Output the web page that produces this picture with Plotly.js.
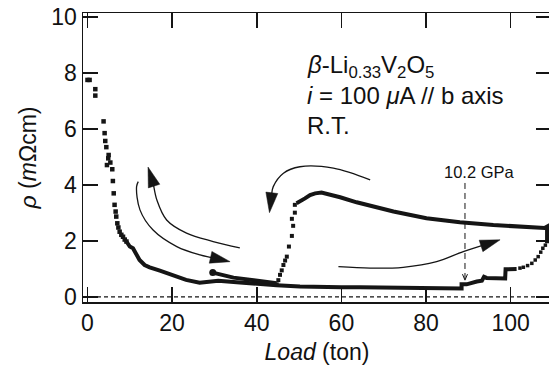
<!DOCTYPE html>
<html><head><meta charset="utf-8">
<script src="https://cdn.plot.ly/plotly-3.0.1.min.js"></script>
<style>html,body{margin:0;padding:0;overflow:hidden;background:#fff}#chart{width:551px;height:373px}</style>
</head><body><div id="chart"></div><script>
// ---- data (Load in ton, resistivity in mOhm cm) ----
const loadDotsX = [0, 0.5, 1.85, 1.85, 3.8, 4.05, 4.2, 4.45, 4.6, 4.9, 5.0, 5.4, 5.86, 6.0, 6.2, 6.4, 6.65, 6.8, 7.05, 7.3, 7.6, 8.0, 8.4, 8.8, 9.2];
const loadDotsY = [7.75, 7.75, 7.42, 7.19, 6.27, 5.85, 5.57, 5.35, 4.71, 4.95, 5.07, 4.8, 4.56, 4.14, 3.7, 3.29, 3.05, 2.87, 2.63, 2.48, 2.33, 2.22, 2.15, 2.05, 1.98];
const loadLineX = [9.2, 10.0, 10.75, 11.5, 12.3, 13.5, 14.7, 17.1, 19.4, 21.8, 23.3, 26.5, 29.7, 30.9, 36.0, 40.0, 44.7, 50.2, 57.3, 60.0, 64.4, 73.8, 79.3, 84.1, 88.4, 88.4, 89.6, 92.0, 93.2, 93.7, 94.3, 98.7, 98.8, 101.4];
const loadLineY = [1.98, 1.80, 1.74, 1.50, 1.32, 1.14, 1.06, 0.94, 0.82, 0.70, 0.61, 0.51, 0.55, 0.58, 0.52, 0.46, 0.42, 0.37, 0.33, 0.35, 0.35, 0.33, 0.29, 0.31, 0.30, 0.45, 0.45, 0.55, 0.58, 0.72, 0.68, 0.66, 0.99, 1.00];
const loadEndDotsX = [102.2, 103.0, 104.0, 105.0, 105.8, 106.5, 107.1, 107.6, 108.2];
const loadEndDotsY = [1.03, 1.06, 1.12, 1.20, 1.32, 1.44, 1.60, 1.74, 1.85];
const unloadLineX = [108.6, 108.6, 108.0, 103.8, 95.9, 88.0, 80.1, 72.3, 66.8, 63.6, 59.7, 56.5, 55.3, 53.8, 52.6, 51.4, 50.2, 49.4];
const unloadLineY = [1.92, 2.51, 2.46, 2.49, 2.57, 2.67, 2.81, 3.05, 3.25, 3.38, 3.56, 3.68, 3.73, 3.70, 3.64, 3.52, 3.44, 3.35];
const unloadDotsX = [49.0, 49.0, 48.3, 48.6, 48.3, 47.6, 47.1, 46.7, 46.3, 45.9, 45.5, 45.1, 44.7];
const unloadDotsY = [3.29, 3.01, 2.79, 2.54, 2.18, 1.80, 1.44, 1.30, 1.14, 0.95, 0.79, 0.60, 0.45];
const unloadEndX = [44.7, 40.0, 34.5, 29.6];
const unloadEndY = [0.49, 0.58, 0.69, 0.87];
const xTicks = [0, 20, 40, 60, 80, 100];
const yTicks = [0, 2, 4, 6, 8, 10];
const gpaLoad = 89.2;        // load marked as 10.2 GPa
const gpaLabel = '10.2 GPa';

// ---- guide arrows (annotation curves, not data) ----
const arrowPaths = [
  {x: [36.0, 29.7, 23.4, 18.7, 16.4, 15.5, 14.3], y: [1.75, 1.98, 2.28, 2.75, 3.46, 4.07, 4.64]},
  {x: [12.0, 11.6, 12.4, 15.5, 21.1, 26.6, 33.7], y: [4.12, 3.94, 3.11, 2.39, 1.80, 1.50, 1.26]},
  {x: [66.8, 58.1, 50.2, 46.3, 43.9, 43.5, 43.0], y: [4.18, 4.60, 4.65, 4.42, 3.94, 3.64, 3.01]},
  {x: [59.3, 66.8, 74.6, 82.5, 88.8, 97.5], y: [1.08, 1.03, 1.06, 1.26, 1.62, 2.04]}
];

// ---- layout geometry ----
const W = 551, H = 373, M = {l: 83, r: 0, t: 13, b: 71};
const xRange = [-1.06, 109.53], yRange = [-0.18, 10.14];
const pw = W - M.l - M.r, ph = H - M.t - M.b;
const kx = pw / (xRange[1] - xRange[0]), ky = ph / (yRange[1] - yRange[0]);
const INK = '#151515';

function head(path, len, half) {
  const n = path.x.length;
  const tx = path.x[n - 1], ty = path.y[n - 1];
  const ux0 = (tx - path.x[n - 2]) * kx, uy0 = (ty - path.y[n - 2]) * ky;
  const d = Math.hypot(ux0, uy0), ux = ux0 / d, uy = uy0 / d;
  const bx = -ux * len, by = -uy * len;
  const tri = {
    x: [tx, tx + (bx - uy * half) / kx, tx + (bx + uy * half) / kx, tx],
    y: [ty, ty + (by + ux * half) / ky, ty + (by - ux * half) / ky, ty]
  };
  const body = {x: path.x.slice(0, n - 1).concat([tx + bx * 0.7 / kx]), y: path.y.slice(0, n - 1).concat([ty + by * 0.7 / ky])};
  return {tri, body};
}

const traces = [
  {x: loadDotsX, y: loadDotsY, mode: 'markers', marker: {symbol: 'square', size: 4.5, color: INK}},
  {x: loadLineX, y: loadLineY, mode: 'lines', line: {color: INK, width: 4}},
  {x: loadEndDotsX, y: loadEndDotsY, mode: 'markers', marker: {symbol: 'square', size: 3.5, color: INK}},
  {x: unloadLineX, y: unloadLineY, mode: 'lines', line: {color: INK, width: 4}},
  {x: unloadDotsX, y: unloadDotsY, mode: 'markers', marker: {symbol: 'square', size: 4, color: INK}},
  {x: unloadEndX, y: unloadEndY, mode: 'lines', line: {color: INK, width: 4}},
  {x: unloadEndX.slice(-1), y: unloadEndY.slice(-1), mode: 'markers', marker: {symbol: 'circle', size: 7, color: INK}}
];
arrowPaths.forEach(p => {
  const h = head(p, 20, 6);
  traces.push({x: h.body.x, y: h.body.y, mode: 'lines', line: {color: INK, width: 1.3, shape: 'spline', smoothing: 1}});
  traces.push({x: h.tri.x, y: h.tri.y, mode: 'lines', fill: 'toself', fillcolor: INK, line: {color: INK, width: 0.5}});
});
// 10.2 GPa marker: dashed drop line with a small head
const gTop = 4.07, gTip = 0.6;
traces.push({x: [gpaLoad, gpaLoad], y: [gTop, gTip], mode: 'lines', line: {color: INK, width: 1, dash: '6px,4px'}});
traces.push({x: [gpaLoad - 2.5 / kx, gpaLoad, gpaLoad + 2.5 / kx], y: [gTip + 6 / ky, gTip, gTip + 6 / ky], mode: 'lines', line: {color: INK, width: 1}});
traces.forEach(t => { t.showlegend = false; t.hoverinfo = 'skip'; t.type = 'scatter'; });

const FONT = 'Liberation Sans, Arial, Helvetica, sans-serif';
const axisCommon = {
  showline: true, linewidth: 1.5, linecolor: INK, mirror: 'ticks',
  ticks: 'inside', ticklen: 15, tickwidth: 1.5, tickcolor: INK,
  showgrid: false, zeroline: false, tickfont: {family: FONT, size: 23, color: '#111'}
};
const layout = {
  width: W, height: H, margin: M, paper_bgcolor: '#fff', plot_bgcolor: '#fff',
  font: {family: FONT, color: '#111'},
  xaxis: Object.assign({}, axisCommon, {range: xRange, tickvals: xTicks, ticktext: xTicks.map(String),
    title: {text: '<i>Load</i> (ton)', font: {family: FONT, size: 23, color: '#111'}, standoff: 9}}),
  yaxis: Object.assign({}, axisCommon, {range: yRange, tickvals: yTicks, ticktext: yTicks.map(String),
    title: {text: '<i>ρ</i> (<i>m</i>Ωcm)', font: {family: FONT, size: 23, color: '#111'}, standoff: 8}}),
  shapes: [{type: 'line', xref: 'paper', x0: 0, x1: 1, yref: 'y', y0: 0, y1: 0, line: {color: INK, width: 1.2, dash: '4px,3px'}}],
  annotations: [
    {x: 51.4, y: 8.23, xanchor: 'left', yanchor: 'middle', showarrow: false, text: '<i>β</i>-Li<sub>0.33</sub>V<sub>2</sub>O<sub>5</sub>', font: {family: FONT, size: 24, color: '#111'}},
    {x: 51.4, y: 7.21, xanchor: 'left', yanchor: 'middle', showarrow: false, text: '<i>i</i> = 100 <i>μ</i>A // b axis', font: {family: FONT, size: 24, color: '#111'}},
    {x: 51.4, y: 6.14, xanchor: 'left', yanchor: 'middle', showarrow: false, text: 'R.T.', font: {family: FONT, size: 24, color: '#111'}},
    {x: 92.7, y: 4.475, xanchor: 'center', yanchor: 'middle', showarrow: false, text: gpaLabel, font: {family: FONT, size: 16.5, color: '#111'}}
  ]
};
Plotly.newPlot('chart', traces, layout, {staticPlot: true, displayModeBar: false});
</script></body></html>
